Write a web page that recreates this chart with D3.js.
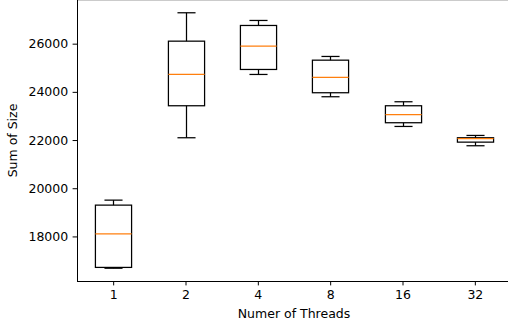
<!DOCTYPE html>
<html><head><meta charset="utf-8">
<script src="https://cdn.jsdelivr.net/npm/d3@7"></script>
<style>html,body{margin:0;padding:0;background:#fff;}svg{display:block;}</style>
</head><body>
<svg id="c" width="508" height="330"></svg>
<script>
const categories = ["1", "2", "4", "8", "16", "32"];
const whiskerLow  = [16680, 22095, 24722, 23797, 22564, 21763];
const q1          = [16714, 23423, 24929, 23963, 22718, 21913];
const medians     = [18110, 24722, 25896, 24598, 23050, 22054];
const q3          = [19299, 26104, 26755, 25315, 23423, 22095];
const whiskerHigh = [19506, 27282, 26963, 25469, 23589, 22191];
const yTicks = [18000, 20000, 22000, 24000, 26000];

(function () {
const svg = d3.select("#c");
const mLeft = 77, mRight = 511, mTop = 0, mBottom = 281;
const fontFam = "'DejaVu Sans', sans-serif";
const fs = 12.5;

const lo = d3.min(whiskerLow), hi = d3.max(whiskerHigh);
const pad = (hi - lo) * 0.05;
const y = d3.scaleLinear().domain([lo - pad, hi + pad]).range([mBottom, mTop]);
const x = d3.scalePoint().domain(categories).range([mLeft, mRight]).padding(0.5);
const step = x.step();
const boxW = step * 0.5, capW = step * 0.25;

const data = categories.map((c, i) => ({c, wl: whiskerLow[i], q1: q1[i], med: medians[i], q3: q3[i], wh: whiskerHigh[i]}));

const g = svg.append("g");
data.forEach(d => {
  const cx = Math.round(x(d.c)) + 0.5;
  const line = (x1, y1, x2, y2, col) => g.append("line").attr("x1", x1).attr("y1", y1).attr("x2", x2).attr("y2", y2)
    .attr("stroke", col || "#000").attr("stroke-width", 1.25);
  line(cx, y(d.q3), cx, y(d.wh));
  line(cx, y(d.q1), cx, y(d.wl));
  line(cx - capW / 2, y(d.wh), cx + capW / 2, y(d.wh));
  line(cx - capW / 2, y(d.wl), cx + capW / 2, y(d.wl));
  g.append("rect").attr("x", cx - boxW / 2).attr("y", y(d.q3)).attr("width", boxW).attr("height", y(d.q1) - y(d.q3))
    .attr("fill", "none").attr("stroke", "#000").attr("stroke-width", 1.25);
  line(cx - boxW / 2, y(d.med), cx + boxW / 2, y(d.med), "#ff7f0e");
});

const yAxis = d3.axisLeft(y).tickValues(yTicks).tickFormat(d3.format("d")).tickSize(4.4).tickPadding(4.4).tickSizeOuter(0);
const yg = svg.append("g").attr("transform", `translate(${mLeft},0)`).call(yAxis);
const xAxis = d3.axisBottom(x).tickSize(4.4).tickPadding(4.4).tickSizeOuter(0);
const xg = svg.append("g").attr("transform", `translate(0,${mBottom})`).call(xAxis);
[yg, xg].forEach(a => {
  a.select(".domain").remove();
  a.selectAll(".tick line").attr("stroke", "#000").attr("stroke-width", 1);
  a.selectAll(".tick text").attr("fill", "#000").style("font-family", fontFam).style("font-size", fs + "px");
});

// spines
const spine = (x1, y1, x2, y2) => svg.append("line").attr("x1", x1).attr("y1", y1).attr("x2", x2).attr("y2", y2)
  .attr("stroke", "#000").attr("stroke-width", 1);
spine(mLeft + 0.5, mTop, mLeft + 0.5, mBottom + 0.5);
spine(mLeft, mBottom + 0.5, mRight, mBottom + 0.5);
spine(mLeft, mTop - 0.3, mRight, mTop - 0.3);
spine(mRight, mTop, mRight, mBottom);

svg.append("text").attr("x", (mLeft + mRight) / 2).attr("y", 318).attr("text-anchor", "middle")
  .style("font-family", fontFam).style("font-size", fs + "px").attr("fill", "#000").text("Numer of Threads");
svg.append("text").attr("transform", `translate(17,${(mTop + mBottom) / 2}) rotate(-90)`).attr("text-anchor", "middle")
  .style("font-family", fontFam).style("font-size", fs + "px").attr("fill", "#000").text("Sum of Size");
})();
</script>
</body></html>
